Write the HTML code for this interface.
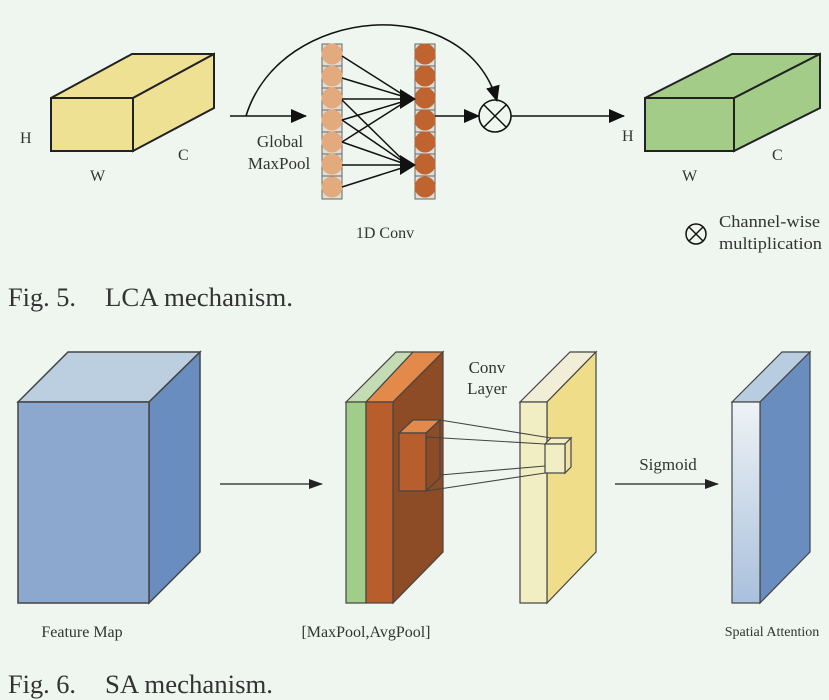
<!DOCTYPE html>
<html><head><meta charset="utf-8"><style>
html,body{margin:0;padding:0;background:#eef6ef;}
svg{display:block;}
text{font-family:"Liberation Serif",serif;fill:#333;}
</style></head><body>
<svg width="829" height="700" viewBox="0 0 829 700" xmlns="http://www.w3.org/2000/svg">
<defs>
<marker id="a" markerWidth="10" markerHeight="8" refX="9" refY="4" orient="auto" markerUnits="userSpaceOnUse"><path d="M0,0L10,4L0,8z" fill="#111"/></marker>
<marker id="b" markerWidth="16" markerHeight="14" refX="15" refY="7" orient="auto" markerUnits="userSpaceOnUse"><path d="M0,0L16,7L0,14z" fill="#111"/></marker>
<marker id="c" markerWidth="14" markerHeight="10" refX="13" refY="5" orient="auto" markerUnits="userSpaceOnUse"><path d="M0,0L14,5L0,10z" fill="#222"/></marker>
<linearGradient id="g" x1="0" y1="0" x2="0" y2="1"><stop offset="0" stop-color="#eef3f5"/><stop offset="1" stop-color="#a9c0dc"/></linearGradient>
</defs>
<!-- yellow box -->
<g stroke="#222" stroke-width="2" fill="#efe194">
<polygon points="51,98 132,54 214,54 133,98"/>
<polygon points="133,98 214,54 214,108 133,151"/>
<rect x="51" y="98" width="82" height="53"/>
</g>
<text x="20" y="143" font-size="16">H</text>
<text x="90" y="181" font-size="16">W</text>
<text x="178" y="160" font-size="16">C</text>
<line x1="230" y1="116" x2="306" y2="116" stroke="#111" stroke-width="1.6" marker-end="url(#b)"/>
<path d="M246,116 C280,5 465,-10 497,101" fill="none" stroke="#111" stroke-width="1.6" marker-end="url(#b)"/>
<text x="280" y="147" font-size="17" text-anchor="middle">Global</text>
<text x="279" y="169" font-size="17" text-anchor="middle">MaxPool</text>
<!-- columns -->
<g stroke="#666" stroke-width="1" fill="#e0ddd6">
<rect x="322" y="44" width="20" height="155"/>
<rect x="415" y="44" width="20" height="155"/>
</g>
<g stroke="#666" stroke-width="1">
<line x1="322" y1="66" x2="342" y2="66"/><line x1="322" y1="88" x2="342" y2="88"/><line x1="322" y1="110" x2="342" y2="110"/><line x1="322" y1="132" x2="342" y2="132"/><line x1="322" y1="154" x2="342" y2="154"/><line x1="322" y1="176" x2="342" y2="176"/>
<line x1="415" y1="66" x2="435" y2="66"/><line x1="415" y1="88" x2="435" y2="88"/><line x1="415" y1="110" x2="435" y2="110"/><line x1="415" y1="132" x2="435" y2="132"/><line x1="415" y1="154" x2="435" y2="154"/><line x1="415" y1="176" x2="435" y2="176"/>
</g>
<g fill="#e3aa7d">
<circle cx="332" cy="54" r="10.5"/><circle cx="332" cy="76" r="10.5"/><circle cx="332" cy="98" r="10.5"/><circle cx="332" cy="120" r="10.5"/><circle cx="332" cy="142" r="10.5"/><circle cx="332" cy="164" r="10.5"/><circle cx="332" cy="187" r="10.5"/>
</g>
<g fill="#c0642f">
<circle cx="425" cy="54" r="10.5"/><circle cx="425" cy="76" r="10.5"/><circle cx="425" cy="98" r="10.5"/><circle cx="425" cy="120" r="10.5"/><circle cx="425" cy="142" r="10.5"/><circle cx="425" cy="164" r="10.5"/><circle cx="425" cy="187" r="10.5"/>
</g>
<g stroke="#111" stroke-width="1.5">
<line x1="342" y1="56" x2="405" y2="96"/><line x1="342" y1="78" x2="405" y2="97"/><line x1="342" y1="99" x2="405" y2="99"/><line x1="342" y1="120" x2="405" y2="101"/><line x1="342" y1="142" x2="405" y2="102"/>
<line x1="342" y1="100" x2="405" y2="162"/><line x1="342" y1="120" x2="405" y2="163"/><line x1="342" y1="142" x2="405" y2="164"/><line x1="342" y1="165" x2="405" y2="165"/><line x1="342" y1="187" x2="405" y2="167"/>
</g>
<path d="M400,89 L416,99 L400,109z M400,155 L416,165 L400,175z" fill="#111"/>
<line x1="435" y1="116" x2="479" y2="116" stroke="#111" stroke-width="1.6" marker-end="url(#b)"/>
<circle cx="495" cy="116" r="16" fill="none" stroke="#111" stroke-width="1.6"/>
<line x1="484" y1="105" x2="506" y2="127" stroke="#111" stroke-width="1.5"/><line x1="506" y1="105" x2="484" y2="127" stroke="#111" stroke-width="1.5"/>
<line x1="511" y1="116" x2="624" y2="116" stroke="#111" stroke-width="1.6" marker-end="url(#b)"/>
<text x="385" y="238" font-size="16" text-anchor="middle">1D Conv</text>
<!-- green box -->
<g stroke="#222" stroke-width="2" fill="#a2cc88">
<polygon points="645,98 732,54 820,54 734,98"/>
<polygon points="734,98 820,54 820,108 734,151"/>
<rect x="645" y="98" width="89" height="53"/>
</g>
<text x="622" y="141" font-size="16">H</text>
<text x="682" y="181" font-size="16">W</text>
<text x="772" y="160" font-size="16">C</text>
<circle cx="696" cy="234" r="10" fill="none" stroke="#111" stroke-width="1.5"/>
<line x1="689" y1="227" x2="703" y2="241" stroke="#111" stroke-width="1.4"/><line x1="703" y1="227" x2="689" y2="241" stroke="#111" stroke-width="1.4"/>
<text x="719" y="227" font-size="17" textLength="101" lengthAdjust="spacingAndGlyphs">Channel-wise</text>
<text x="719" y="249" font-size="17" textLength="103" lengthAdjust="spacingAndGlyphs">multiplication</text>
<text x="8" y="306" font-size="26" textLength="68" lengthAdjust="spacingAndGlyphs">Fig. 5.</text>
<text x="105" y="306" font-size="26" textLength="188" lengthAdjust="spacingAndGlyphs">LCA mechanism.</text>
<!-- feature map cube -->
<g stroke="#444" stroke-width="1.5">
<polygon points="18,402 68,352 200,352 149,402" fill="#bccfe0"/>
<polygon points="149,402 200,352 200,552 149,603" fill="#6a8dbf"/>
<rect x="18" y="402" width="131" height="201" fill="#8ca8cf"/>
</g>
<line x1="220" y1="484" x2="322" y2="484" stroke="#222" stroke-width="1.3" marker-end="url(#c)"/>
<!-- stacks -->
<g stroke="#444" stroke-width="1.2">
<polygon points="346,402 396,352 413,352 366,402" fill="#c3dcb4"/>
<polygon points="366,402 413,352 443,352 393,402" fill="#e38a4a"/>
<polygon points="393,402 443,352 443,552 393,603" fill="#8d4c26"/>
<rect x="346" y="402" width="20" height="201" fill="#a1cd8a"/>
<rect x="366" y="402" width="27" height="201" fill="#b85e2c"/>
<polygon points="399,433 413,420 440,420 426,433" fill="#e38a4a"/>
<polygon points="426,433 440,420 440,478 426,491" fill="#8d4c26"/>
<rect x="399" y="433" width="27" height="58" fill="#b85e2c"/>
</g>
<g stroke="#444" stroke-width="1.2">
<polygon points="520,402 570,352 596,352 547,402" fill="#f0eed6"/>
<polygon points="547,402 596,352 596,552 547,603" fill="#f0dd8a"/>
<rect x="520" y="402" width="27" height="201" fill="#f2eec4"/>
<polygon points="545,444 551,438 571,438 565,444" fill="#f2eec4"/>
<polygon points="565,444 571,438 571,467 565,473" fill="#efe3a8"/>
<rect x="545" y="444" width="20" height="29" fill="#f2eec4"/>
</g>
<g stroke="#444" stroke-width="1.1">
<line x1="440" y1="420" x2="551" y2="438"/><line x1="426" y1="437" x2="545" y2="444"/><line x1="440" y1="475" x2="545" y2="466"/><line x1="426" y1="491" x2="545" y2="473"/>
</g>
<text x="487" y="373" font-size="17" text-anchor="middle">Conv</text>
<text x="487" y="394" font-size="17" text-anchor="middle">Layer</text>
<line x1="615" y1="484" x2="718" y2="484" stroke="#222" stroke-width="1.3" marker-end="url(#c)"/>
<text x="668" y="470" font-size="17" text-anchor="middle">Sigmoid</text>
<g stroke="#444" stroke-width="1.2">
<polygon points="732,402 782,352 810,352 760,402" fill="#b9cde0"/>
<polygon points="760,402 810,352 810,552 760,603" fill="#6a8dbf"/>
<rect x="732" y="402" width="28" height="201" fill="url(#g)"/>
</g>
<text x="82" y="637" font-size="16" text-anchor="middle">Feature Map</text>
<text x="366" y="637" font-size="16" text-anchor="middle">[MaxPool,AvgPool]</text>
<text x="772" y="636" font-size="14" text-anchor="middle">Spatial Attention</text>
<text x="8" y="693" font-size="26" textLength="68" lengthAdjust="spacingAndGlyphs">Fig. 6.</text>
<text x="105" y="693" font-size="26" textLength="168" lengthAdjust="spacingAndGlyphs">SA mechanism.</text>
</svg>
</body></html>
